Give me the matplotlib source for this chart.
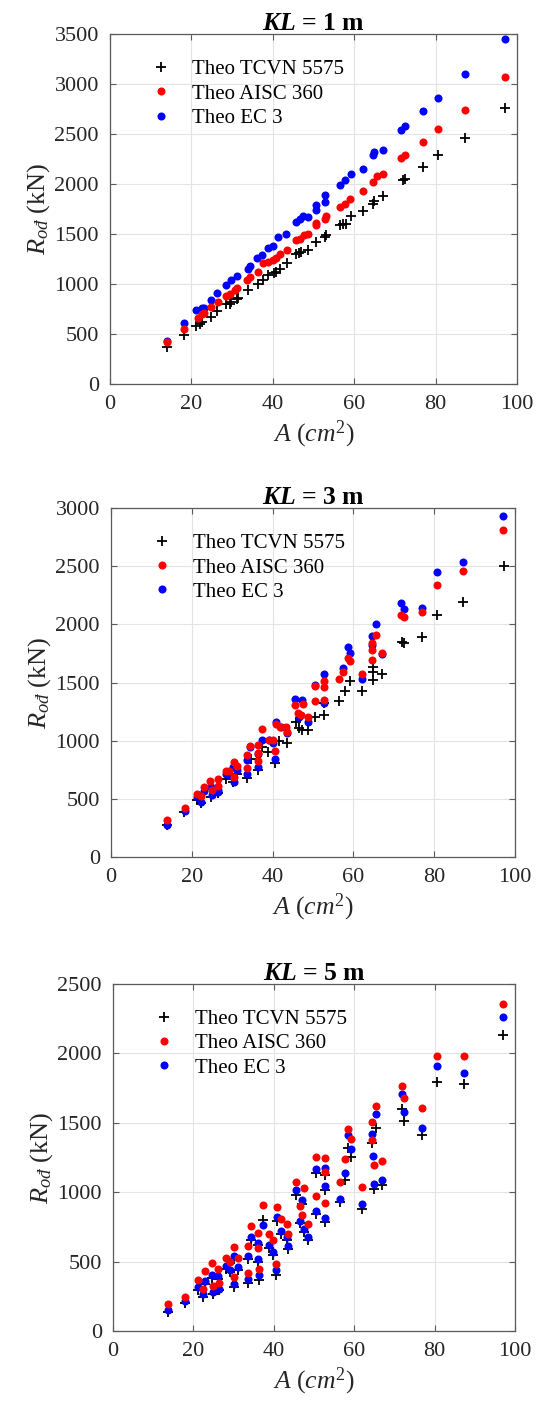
import matplotlib
matplotlib.use("Agg")
import matplotlib.pyplot as plt
from matplotlib.lines import Line2D

plt.rcParams['font.family'] = ['Liberation Serif', 'DejaVu Serif']
plt.rcParams['mathtext.fontset'] = 'custom'
plt.rcParams['mathtext.rm'] = 'Liberation Serif'
plt.rcParams['mathtext.it'] = 'Liberation Serif:italic'
plt.rcParams['mathtext.bf'] = 'Liberation Serif:bold'
plt.rcParams['mathtext.bfit'] = 'Liberation Serif:italic:bold'

titles = ['1', '3', '5']
series_labels = ['Theo TCVN 5575', 'Theo AISC 360', 'Theo EC 3']
y_limits = [3500, 3000, 2500]

# ---------------- KL = 1 m ----------------
kl1_tcvn_A = [13.9, 18.2, 21.2, 22.2, 22.6, 24.8, 26.3, 28.6, 29.4, 29.8, 31.1, 31.5, 33.9, 36.4, 37.6, 38.9,
              40.2, 40.7, 41.7, 43.5, 45.8, 46.5, 47.0, 48.7, 50.7, 52.8, 53.0, 56.6, 57.3, 57.9, 59.1, 62.2,
              64.6, 64.8, 67.1, 71.9, 72.4, 77.0, 80.7, 87.2, 97.0]
kl1_tcvn_R = [368, 495, 585, 600, 619, 675, 726, 796, 805, 819, 853, 862, 936, 997, 1043, 1087,
              1110, 1120, 1154, 1210, 1297, 1310, 1321, 1344, 1421, 1470, 1488, 1588, 1596, 1605, 1682, 1729,
              1800, 1830, 1877, 2044, 2050, 2171, 2291, 2465, 2758]
kl1_aisc_A = [13.9, 18.2, 21.5, 22.5, 23.0, 24.8, 26.6, 28.4, 29.6, 30.7, 31.3, 33.7, 34.3, 36.4, 37.6, 38.9,
              40.1, 40.7, 41.7, 43.5, 45.8, 46.6, 47.6, 48.7, 50.6, 50.7, 52.9, 53.0, 56.6, 57.7, 59.0, 62.2,
              64.6, 65.5, 67.1, 71.6, 72.4, 77.0, 80.7, 87.2, 97.0]
kl1_aisc_R = [425, 555, 662, 702, 712, 769, 816, 879, 903, 936, 963, 1037, 1070, 1120, 1210, 1217,
              1237, 1264, 1304, 1344, 1438, 1455, 1488, 1505, 1588, 1610, 1655, 1679, 1772, 1799, 1850, 1930,
              2020, 2077, 2097, 2264, 2288, 2421, 2548, 2745, 3066]
kl1_ec3_A = [13.9, 18.2, 21.2, 22.5, 23.0, 24.9, 26.3, 28.6, 29.8, 31.1, 33.8, 34.3, 36.2, 37.4, 38.9, 40.1,
             41.3, 43.3, 45.7, 46.6, 47.5, 48.7, 50.6, 50.6, 52.8, 52.8, 56.6, 57.7, 59.1, 62.2, 64.5, 64.8,
             67.1, 71.6, 72.4, 77.0, 80.7, 87.2, 97.0]
kl1_ec3_R = [428, 612, 736, 759, 765, 843, 913, 993, 1037, 1083, 1154, 1180, 1264, 1290, 1361, 1384,
             1471, 1505, 1622, 1649, 1679, 1672, 1737, 1787, 1822, 1887, 1987, 2044, 2097, 2147, 2288, 2321,
             2344, 2545, 2578, 2732, 2862, 3096, 3450]

# ---------------- KL = 3 m ----------------
kl3_tcvn_A = [13.8, 18.1, 21.2, 22.2, 24.7, 26.4, 28.4, 30.3, 31.2, 33.6, 34.6, 36.5, 37.4, 38.8, 40.7, 41.7,
              43.6, 45.8, 46.6, 47.3, 48.7, 50.6, 52.6, 52.8, 56.5, 57.8, 59.2, 62.1, 64.8, 64.8, 64.9, 67.1,
              72.1, 72.6, 77.0, 80.7, 87.1, 97.2]
kl3_tcvn_R = [275, 388, 489, 466, 517, 546, 667, 647, 710, 681, 845, 747, 948, 905, 805, 997,
              977, 1164, 1106, 1092, 1092, 1201, 1221, 1322, 1345, 1423, 1509, 1425, 1522, 1594, 1637, 1574,
              1852, 1838, 1887, 2082, 2191, 2498]
kl3_aisc_A = [13.8, 18.3, 21.2, 22.2, 22.9, 24.5, 24.9, 26.4, 26.5, 28.4, 29.3, 30.4, 30.5, 31.2, 33.6, 33.6,
              34.5, 36.3, 36.3, 36.5, 37.4, 39.0, 40.0, 40.7, 40.8, 41.9, 43.3, 43.5, 45.6, 46.4, 47.0, 47.6,
              48.7, 50.6, 50.6, 52.8, 52.8, 52.8, 56.5, 57.5, 58.6, 59.2, 62.1, 64.6, 64.6, 64.6, 65.6, 67.1,
              71.8, 72.5, 77.0, 80.7, 87.1, 97.0]
kl3_aisc_R = [322, 422, 540, 523, 598, 655, 575, 667, 609, 741, 741, 819, 690, 782, 877, 762,
              954, 963, 897, 825, 1098, 1006, 1006, 911, 1144, 1115, 1115, 1078, 1308, 1236, 1221, 1313,
              1207, 1474, 1342, 1509, 1460, 1351, 1530, 1594, 1709, 1689, 1571, 1695, 1781, 1838, 1910, 1752,
              2082, 2062, 2105, 2340, 2461, 2808]
kl3_ec3_A = [13.8, 18.3, 21.2, 22.2, 22.9, 24.7, 24.9, 26.4, 26.5, 28.4, 29.3, 30.3, 30.5, 31.2, 33.6, 33.6,
             34.5, 36.3, 36.5, 37.4, 39.0, 40.0, 40.7, 40.8, 42.1, 43.5, 45.6, 46.6, 47.3, 48.7, 50.6, 52.8,
             52.8, 57.5, 58.6, 59.2, 62.1, 64.6, 64.7, 65.6, 67.1, 71.8, 72.5, 77.0, 80.7, 87.1, 97.0]
kl3_ec3_R = [273, 394, 512, 474, 569, 604, 532, 575, 560, 713, 705, 770, 641, 747, 833, 710,
             948, 885, 770, 1006, 1006, 977, 842, 1164, 1121, 1063, 1357, 1207, 1351, 1164, 1480, 1322,
             1574, 1623, 1804, 1752, 1528, 1904, 1824, 2002, 1746, 2182, 2134, 2139, 2449, 2535, 2928]

# ---------------- KL = 5 m ----------------
kl5_tcvn_A = [13.6, 18.0, 21.2, 22.3, 22.9, 24.6, 24.8, 26.2, 26.3, 28.1, 29.2, 30.2, 30.2, 31.0, 33.6, 33.6,
              34.3, 36.0, 36.0, 36.4, 37.3, 38.8, 39.9, 40.6, 40.9, 41.7, 43.2, 43.5, 45.6, 46.4, 47.0, 47.4,
              48.6, 50.4, 50.4, 52.7, 52.7, 52.7, 56.4, 57.7, 58.5, 59.1, 61.9, 64.5, 64.9, 65.3, 67.0,
              71.8, 72.4, 76.9, 80.5, 87.2, 97.1]
kl5_tcvn_R = [140, 202, 293, 245, 341, 385, 269, 377, 293, 450, 425, 522, 317, 442, 522, 346,
              654, 618, 498, 370, 803, 601, 546, 401, 793, 697, 654, 594, 978, 779, 918, 714,
              654, 1135, 841, 1125, 1014, 786, 928, 1091, 1315, 1255, 882, 1356, 1026, 1466, 1055,
              1598, 1514, 1411, 1791, 1776, 2132]
kl5_aisc_A = [13.6, 18.0, 21.2, 22.3, 22.9, 24.6, 24.8, 26.2, 26.3, 28.1, 29.2, 30.2, 30.2, 31.0, 33.6, 33.6,
              34.3, 36.0, 36.0, 36.4, 37.3, 38.8, 39.9, 40.6, 40.9, 41.7, 43.2, 43.5, 45.6, 46.4, 47.0, 47.4,
              48.6, 50.4, 50.4, 52.7, 52.7, 52.7, 56.4, 57.7, 58.5, 59.1, 61.9, 64.5, 64.5, 64.9, 65.5, 67.0,
              71.8, 72.4, 76.9, 80.5, 87.2, 97.1]
kl5_aisc_R = [192, 245, 370, 300, 430, 490, 327, 450, 346, 526, 498, 603, 389, 526, 615, 421,
              755, 709, 596, 450, 906, 702, 654, 486, 894, 810, 774, 702, 1077, 899, 834, 1029,
              774, 1255, 971, 1243, 1142, 923, 1075, 1238, 1454, 1382, 1041, 1507, 1375, 1197, 1622, 1228,
              1767, 1680, 1608, 1978, 1983, 2356]
kl5_ec3_A = [13.6, 18.0, 21.2, 22.3, 22.9, 24.6, 24.8, 26.2, 26.3, 28.1, 29.2, 30.2, 30.2, 31.0, 33.6, 33.6,
             34.3, 36.0, 36.0, 36.4, 37.3, 38.8, 39.9, 40.6, 40.9, 41.7, 43.2, 43.5, 45.6, 46.4, 47.0, 47.4,
             48.6, 50.4, 50.4, 52.7, 52.7, 52.7, 56.4, 57.7, 58.5, 59.2, 61.9, 64.5, 64.7, 64.9, 65.5, 67.0,
             71.8, 72.4, 76.9, 80.5, 87.2, 97.1]
kl5_ec3_R = [154, 216, 317, 264, 361, 404, 281, 394, 305, 469, 438, 541, 341, 459, 543, 377,
             678, 635, 519, 404, 762, 618, 570, 438, 822, 721, 678, 611, 1019, 793, 942, 738,
             676, 1166, 863, 1173, 1046, 813, 954, 1135, 1411, 1310, 916, 1421, 1262, 1060, 1567, 1089,
             1707, 1579, 1464, 1909, 1856, 2260]

panels = [
    (kl1_tcvn_A, kl1_tcvn_R, kl1_aisc_A, kl1_aisc_R, kl1_ec3_A, kl1_ec3_R),
    (kl3_tcvn_A, kl3_tcvn_R, kl3_aisc_A, kl3_aisc_R, kl3_ec3_A, kl3_ec3_R),
    (kl5_tcvn_A, kl5_tcvn_R, kl5_aisc_A, kl5_aisc_R, kl5_ec3_A, kl5_ec3_R),
]

W, H = 540, 1403
fig = plt.figure(figsize=(W / 100, H / 100), dpi=100)
# pixel boxes: left, top, right, bottom
boxes = [(110, 34, 517, 384), (111, 508, 515, 857), (113, 984, 515, 1331)]

spine_col = '#5a5a5a'
for i, (box, data) in enumerate(zip(boxes, panels)):
    l, t, r, b = box
    ax = fig.add_axes([l / W, 1 - b / H, (r - l) / W, (b - t) / H])
    tA, tR, aA, aR, eA, eR = data
    ax.plot(tA, tR, linestyle='none', marker='+', color='black', ms=7, mew=1.3, zorder=3)
    ax.plot(eA, eR, linestyle='none', marker='o', color='#0000ff', ms=5.8, mew=0, zorder=4)
    ax.plot(aA, aR, linestyle='none', marker='o', color='#ff0000', ms=5.8, mew=0, zorder=5)

    ax.set_xlim(0, 100)
    ax.set_ylim(0, y_limits[i])
    ax.set_xticks([0, 20, 40, 60, 80, 100])
    ax.set_yticks(list(range(0, y_limits[i] + 1, 500)))
    ax.grid(True, color='#e3e3e3', linewidth=0.8, zorder=0)
    ax.set_axisbelow(True)
    ax.tick_params(direction='in', length=4, width=0.8, colors=spine_col, labelcolor='#262626',
                   labelsize=16, top=True, right=True, pad=8)
    for s in ax.spines.values():
        s.set_color(spine_col)
        s.set_linewidth(0.9)

    ax.set_title(r'$\mathbfit{KL}$' + ' = ' + titles[i] + ' m', fontsize=18.5, fontweight='bold', pad=3)
    ax.set_ylabel(r'$R_{ođ}$' + ' (kN)', fontsize=19, color='#262626', labelpad=2)
    ax.set_xlabel(r'$A\ (cm^{2})$', fontsize=18.5, color='#262626', labelpad=3)

    handles = [
        Line2D([], [], linestyle='none', marker='+', color='black', ms=7, mew=1.3),
        Line2D([], [], linestyle='none', marker='o', color='#ff0000', ms=5.8, mew=0),
        Line2D([], [], linestyle='none', marker='o', color='#0000ff', ms=5.8, mew=0),
    ]
    ax.legend(handles, series_labels, loc='upper left', bbox_to_anchor=(0.10, 0.926),
              frameon=False, fontsize=15, handlelength=1.0, handletextpad=1.0,
              labelspacing=0.22, borderpad=0, borderaxespad=0, numpoints=1)

fig.savefig('out.png', dpi=100)
